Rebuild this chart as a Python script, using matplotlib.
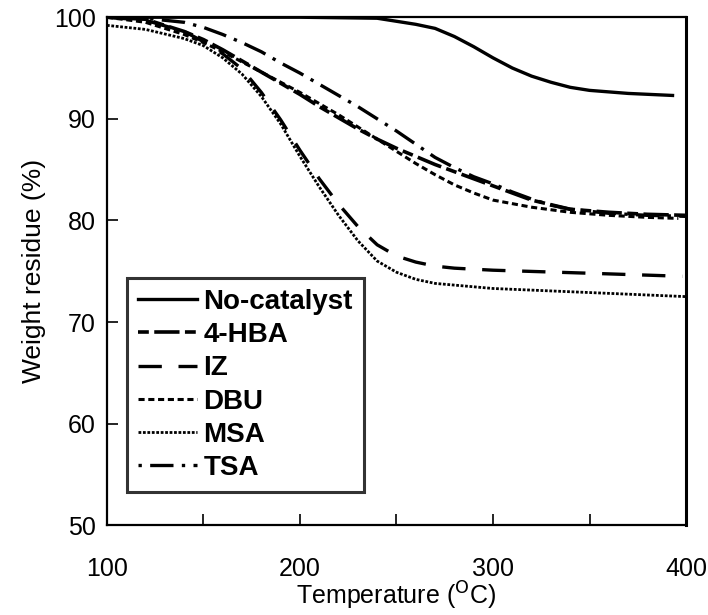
import numpy as np
import matplotlib
matplotlib.use("Agg")
import matplotlib.pyplot as plt

plt.rcParams['font.family'] = ['Liberation Sans', 'DejaVu Sans']

# Temperature grid (degC) and weight residue (%)
t_nocat = [100, 150, 200, 240, 260, 270, 280, 290, 300, 310, 320, 330, 340, 350, 370, 393]
w_nocat = [100.0, 100.0, 100.0, 99.9, 99.3, 98.9, 98.1, 97.1, 96.0, 95.0, 94.2, 93.6, 93.1, 92.8, 92.5, 92.3]

t_hba = [100, 120, 140, 150, 160, 170, 180, 190, 200, 210, 220, 230, 240, 250, 260, 270,
         280, 290, 300, 320, 340, 360, 380, 400]
w_hba = [100.0, 99.8, 98.6, 97.8, 96.8, 95.7, 94.6, 93.5, 92.4, 91.2, 90.1, 89.0, 88.0, 87.1,
         86.3, 85.5, 84.8, 84.1, 83.4, 82.0, 81.1, 80.8, 80.6, 80.5]

t_iz = [100, 120, 140, 150, 160, 170, 180, 190, 200, 210, 220, 230, 240, 250, 260, 270,
        280, 300, 350, 398]
w_iz = [100.0, 99.7, 98.6, 97.6, 96.4, 94.9, 92.6, 89.9, 86.9, 84.1, 81.6, 79.4, 77.6,
        76.5, 75.9, 75.5, 75.3, 75.1, 74.8, 74.5]

t_dbu = [100, 120, 140, 150, 160, 170, 180, 190, 200, 210, 220, 230, 240, 250, 260, 270,
         280, 290, 300, 320, 340, 360, 380, 396]
w_dbu = [100.0, 99.5, 98.3, 97.5, 96.6, 95.6, 94.6, 93.6, 92.6, 91.5, 90.4, 89.2, 88.0,
         86.8, 85.6, 84.5, 83.5, 82.7, 82.0, 81.3, 80.8, 80.5, 80.3, 80.2]

t_msa = [100, 120, 140, 150, 160, 170, 180, 190, 200, 210, 220, 230, 240, 250, 260, 270,
         300, 350, 400]
w_msa = [99.2, 98.8, 97.9, 97.2, 96.0, 94.4, 92.2, 89.5, 86.3, 83.3, 80.5, 78.0, 76.0,
         74.9, 74.2, 73.8, 73.3, 72.9, 72.5]

t_tsa = [100, 120, 140, 150, 160, 170, 180, 190, 200, 210, 220, 230, 240, 250, 260, 270,
         280, 290, 300, 310, 320, 330, 340, 360, 380, 400]
w_tsa = [100.0, 99.9, 99.5, 99.0, 98.3, 97.5, 96.6, 95.5, 94.5, 93.4, 92.3, 91.2, 90.0,
         88.8, 87.5, 86.2, 85.2, 84.3, 83.6, 82.8, 82.1, 81.5, 81.1, 80.7, 80.5, 80.4]

labels = ['No-catalyst', '4-HBA', 'IZ', 'DBU', 'MSA', 'TSA']

fig = plt.figure(figsize=(7.08, 6.15), dpi=100)
ax = fig.add_axes([0.151, 0.146, 0.818, 0.826])

ax.plot(t_nocat, w_nocat, color='black', lw=2.4, ls='-', label=labels[0])
ax.plot(t_hba, w_hba, color='black', lw=2.6, ls=(0, (3, 1.5, 7, 1.5)), label=labels[1])
ax.plot(t_iz, w_iz, color='black', lw=2.4, ls=(0, (7, 5)), label=labels[2])
ax.plot(t_dbu, w_dbu, color='black', lw=2.2, ls=(0, (2, 1.2)), label=labels[3])
ax.plot(t_msa, w_msa, color='black', lw=2.0, ls=(0, (1, 0.6)), label=labels[4])
ax.plot(t_tsa, w_tsa, color='black', lw=2.4, ls=(0, (1, 2.5, 7, 2.5)), label=labels[5])

ax.set_xlim(100, 400)
ax.set_ylim(50, 100)
ax.set_xticks([100, 200, 300, 400])
ax.set_xticks([150, 250, 350], minor=True)
ax.set_yticks([50, 60, 70, 80, 90, 100])
ax.tick_params(axis='both', which='both', direction='in', length=8, width=1.2,
               labelsize=18)
ax.tick_params(axis='x', pad=23)
ax.tick_params(axis='y', pad=8)

for s in ax.spines.values():
    s.set_linewidth(1.6)
ax.spines['right'].set_linewidth(2.2)

ax.set_xlabel('Temperature ($^{\\rm O}$C)', fontsize=18, labelpad=-1)
ax.set_ylabel('Weight residue (%)', fontsize=19, labelpad=6)

leg = ax.legend(loc='lower left', bbox_to_anchor=(0.035, 0.065), frameon=True,
                fancybox=False, shadow=False, handlelength=2.1, handletextpad=0.25,
                labelspacing=0.26, borderpad=0.4, borderaxespad=0,
                prop={'weight': 'bold', 'size': 20})
leg.get_frame().set_edgecolor('black')
leg.get_frame().set_linewidth(2.2)

fig.savefig('out.png', dpi=100)
